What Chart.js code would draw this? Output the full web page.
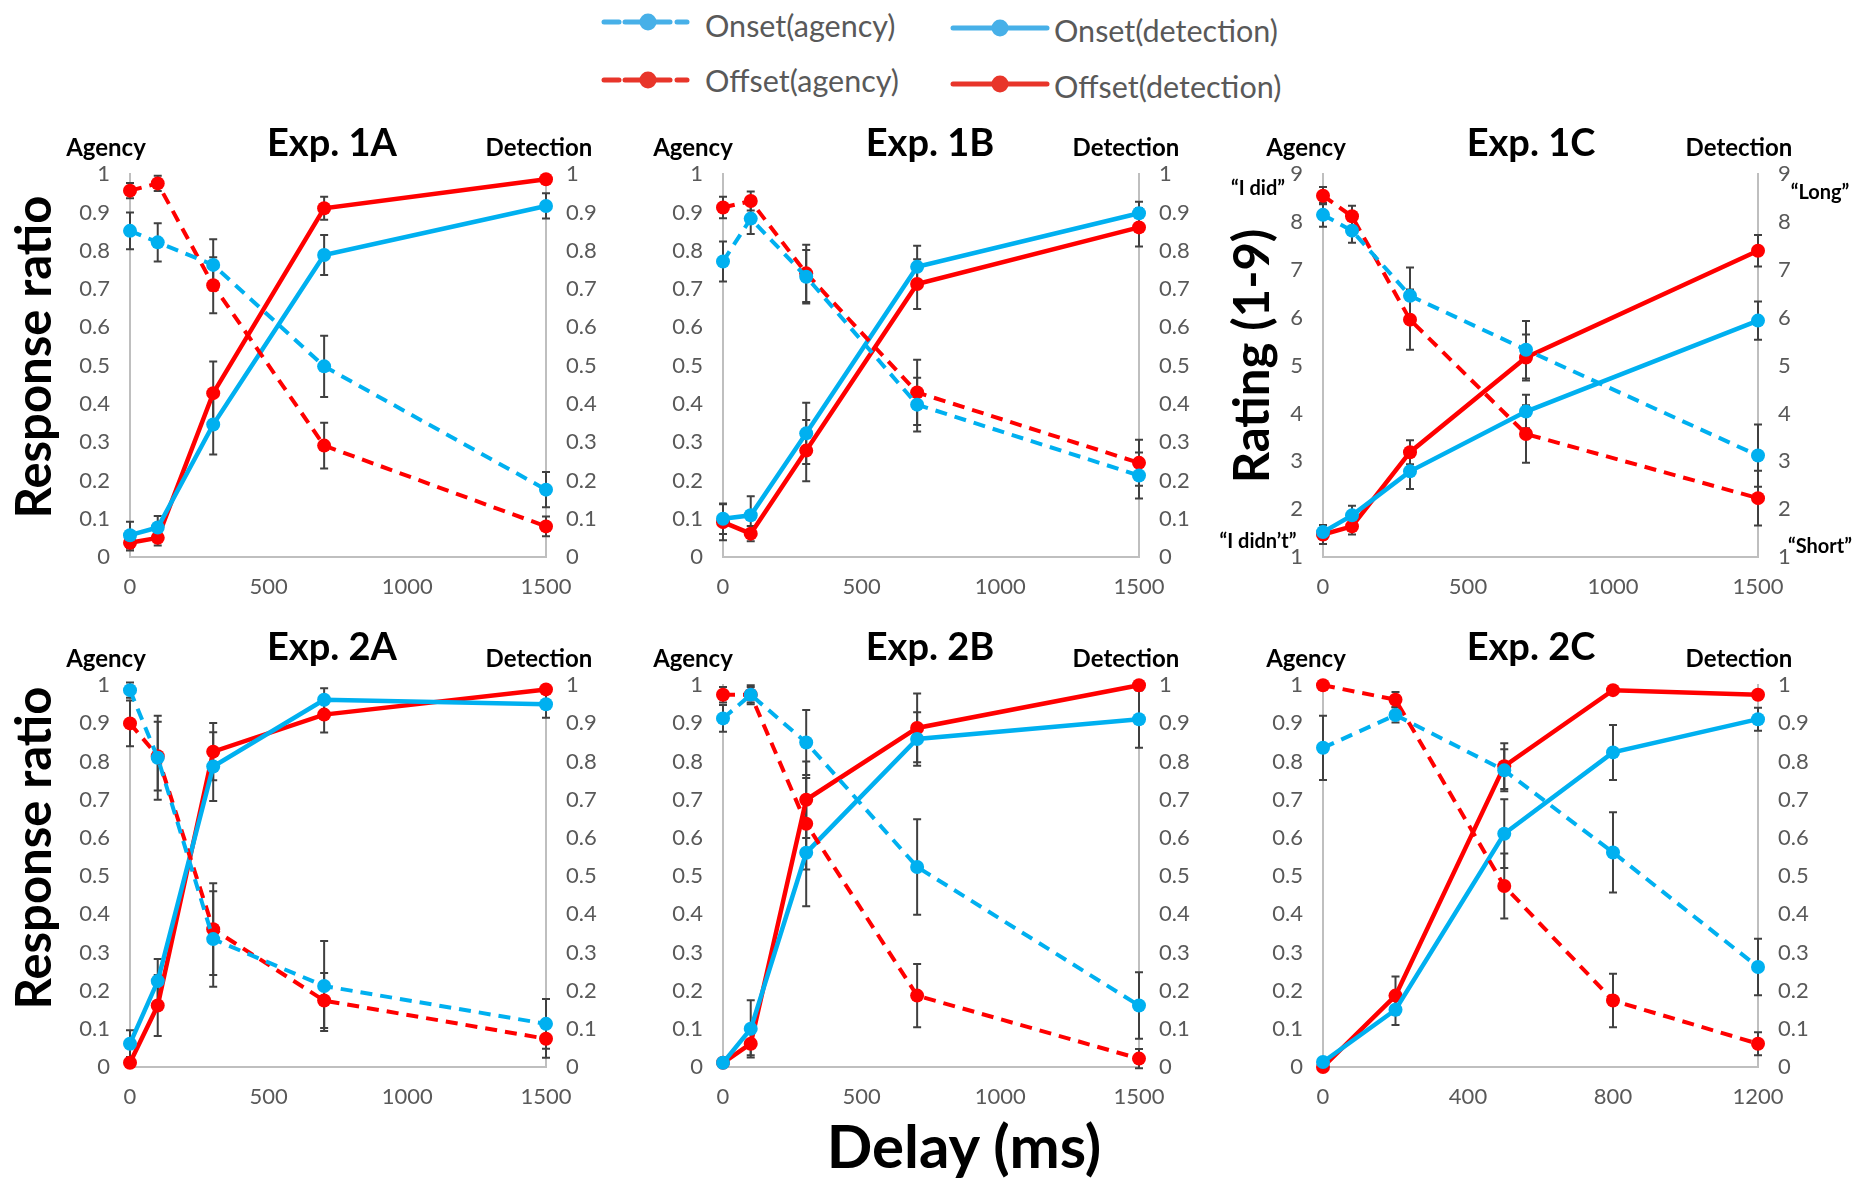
<!DOCTYPE html>
<html>
<head>
<meta charset="utf-8">
<script src="https://cdn.jsdelivr.net/npm/chart.js@4.4.1/dist/chart.umd.min.js"></script>
<style>
html,body{margin:0;padding:0;background:#fff;}
body{width:1854px;height:1178px;position:relative;overflow:hidden;font-family:Lato,"Open Sans",sans-serif;}
canvas.cv{position:absolute;}
.t{position:absolute;white-space:nowrap;font-weight:700;color:#000;line-height:1;transform:translate(-50%,-50%);}
.r{transform:translate(-50%,-50%) rotate(-90deg);}
.lg{position:absolute;white-space:nowrap;color:#595959;font-size:30.5px;line-height:1;transform:translateY(-50%);}
svg.ic{position:absolute;}
</style>
</head>
<body>
<script>
// ---------------- DATA ----------------
const delays1 = [0, 100, 300, 700, 1500];
const delays2C = [0, 200, 500, 800, 1200];
const delayTicks1 = [0, 500, 1000, 1500];
const delayTicks2C = [0, 400, 800, 1200];
const ratioTicks = [0, 0.1, 0.2, 0.3, 0.4, 0.5, 0.6, 0.7, 0.8, 0.9, 1];
const ratingTicks = [1, 2, 3, 4, 5, 6, 7, 8, 9];
const seriesNames = ['Onset(agency)', 'Offset(agency)', 'Onset(detection)', 'Offset(detection)'];

// Exp. 1A
const e1A_onsetAgency        = [0.852, 0.822, 0.763, 0.498, 0.176];
const e1A_onsetAgencyErr     = [0.048, 0.050, 0.067, 0.080, 0.046];
const e1A_offsetAgency       = [0.957, 0.976, 0.710, 0.291, 0.080];
const e1A_offsetAgencyErr    = [0.020, 0.020, 0.073, 0.060, 0.026];
const e1A_onsetDetection     = [0.057, 0.077, 0.346, 0.789, 0.917];
const e1A_onsetDetectionErr  = [0.035, 0.030, 0.078, 0.052, 0.033];
const e1A_offsetDetection    = [0.037, 0.050, 0.428, 0.911, 0.987];
const e1A_offsetDetectionErr = [0.020, 0.020, 0.083, 0.030, 0.000];

// Exp. 1B
const e1B_onsetAgency        = [0.772, 0.884, 0.732, 0.398, 0.213];
const e1B_onsetAgencyErr     = [0.052, 0.040, 0.070, 0.070, 0.060];
const e1B_offsetAgency       = [0.913, 0.930, 0.741, 0.430, 0.246];
const e1B_offsetAgencyErr    = [0.028, 0.025, 0.075, 0.085, 0.060];
const e1B_onsetDetection     = [0.100, 0.109, 0.323, 0.758, 0.898];
const e1B_onsetDetectionErr  = [0.040, 0.050, 0.080, 0.055, 0.030];
const e1B_offsetDetection    = [0.091, 0.061, 0.278, 0.713, 0.861];
const e1B_offsetDetectionErr = [0.047, 0.020, 0.080, 0.065, 0.050];

// Exp. 1C (rating 1-9)
const e1C_onsetAgency        = [8.15, 7.82, 6.46, 5.33, 3.12];
const e1C_onsetAgencyErr     = [0.25, 0.25, 0.59, 0.60, 0.65];
const e1C_offsetAgency       = [8.55, 8.12, 5.96, 3.57, 2.23];
const e1C_offsetAgencyErr    = [0.18, 0.22, 0.63, 0.60, 0.57];
const e1C_onsetDetection     = [1.52, 1.87, 2.79, 4.04, 5.94];
const e1C_onsetDetectionErr  = [0.15, 0.20, 0.37, 0.35, 0.40];
const e1C_offsetDetection    = [1.47, 1.64, 3.19, 5.17, 7.40];
const e1C_offsetDetectionErr = [0.20, 0.17, 0.25, 0.48, 0.33];

// Exp. 2A
const e2A_onsetAgency        = [0.987, 0.810, 0.335, 0.212, 0.113];
const e2A_onsetAgencyErr     = [0.020, 0.110, 0.125, 0.118, 0.065];
const e2A_offsetAgency       = [0.900, 0.814, 0.361, 0.174, 0.074];
const e2A_offsetAgencyErr    = [0.060, 0.090, 0.120, 0.072, 0.050];
const e2A_onsetDetection     = [0.061, 0.225, 0.787, 0.962, 0.950];
const e2A_onsetDetectionErr  = [0.035, 0.058, 0.090, 0.030, 0.035];
const e2A_offsetDetection    = [0.011, 0.161, 0.826, 0.923, 0.989];
const e2A_offsetDetectionErr = [0.010, 0.080, 0.075, 0.047, 0.000];

// Exp. 2B
const e2B_onsetAgency        = [0.913, 0.975, 0.850, 0.524, 0.161];
const e2B_onsetAgencyErr     = [0.035, 0.025, 0.085, 0.125, 0.087];
const e2B_offsetAgency       = [0.975, 0.975, 0.637, 0.187, 0.022];
const e2B_offsetAgencyErr    = [0.020, 0.020, 0.120, 0.083, 0.025];
const e2B_onsetDetection     = [0.011, 0.100, 0.561, 0.859, 0.911];
const e2B_onsetDetectionErr  = [0.010, 0.075, 0.140, 0.070, 0.075];
const e2B_offsetDetection    = [0.011, 0.061, 0.700, 0.888, 1.000];
const e2B_offsetDetectionErr = [0.010, 0.030, 0.100, 0.090, 0.000];

// Exp. 2C
const e2C_onsetAgency        = [0.836, 0.922, 0.777, 0.562, 0.262];
const e2C_onsetAgencyErr     = [0.084, 0.020, 0.055, 0.105, 0.074];
const e2C_offsetAgency       = [1.000, 0.962, 0.474, 0.174, 0.061];
const e2C_offsetAgencyErr    = [0.000, 0.020, 0.085, 0.070, 0.030];
const e2C_onsetDetection     = [0.013, 0.150, 0.611, 0.824, 0.911];
const e2C_onsetDetectionErr  = [0.010, 0.040, 0.090, 0.072, 0.030];
const e2C_offsetDetection    = [0.000, 0.187, 0.788, 0.987, 0.975];
const e2C_offsetDetectionErr = [0.000, 0.050, 0.060, 0.000, 0.000];

// ---------------- STYLE ----------------
const BLUE = '#00B0F0', RED = '#FF0000', TICK = '#595959', AXIS = '#BFBFBF';
const FONT = 'Lato, "Open Sans", sans-serif';

const errorBarPlugin = {
  id: 'errorBars',
  beforeDatasetsDraw(chart) {
    const ctx = chart.ctx;
    ctx.save();
    ctx.strokeStyle = '#404040';
    ctx.lineWidth = 2;
    chart.data.datasets.forEach((d, di) => {
      const meta = chart.getDatasetMeta(di);
      const ys = chart.scales[meta.yAxisID];
      meta.data.forEach((pt, i) => {
        const e = d.errors[i];
        if (!e) return;
        const v = d.data[i].y;
        const x = pt.x;
        const y1 = ys.getPixelForValue(v + e), y2 = ys.getPixelForValue(v - e);
        ctx.beginPath();
        ctx.moveTo(x, y1); ctx.lineTo(x, y2);
        ctx.moveTo(x - 4, y1); ctx.lineTo(x + 4, y1);
        ctx.moveTo(x - 4, y2); ctx.lineTo(x + 4, y2);
        ctx.stroke();
      });
    });
    ctx.restore();
  }
};

function ds(label, xs, vals, errs, color, dashed, axis) {
  return {
    label,
    data: xs.map((x, i) => ({ x, y: vals[i] })),
    errors: errs,
    borderColor: color,
    backgroundColor: color,
    pointBackgroundColor: color,
    borderWidth: dashed ? 4 : 4.5,
    borderDash: dashed ? [12, 8] : [],
    pointRadius: 7,
    pointHoverRadius: 7,
    pointBorderWidth: 0,
    tension: 0,
    clip: false,
    fill: false,
    yAxisID: axis
  };
}

function fmt(v) { return String(Math.round(v * 10) / 10); }

function yScale(pos, yMin, yMax, yTicks) {
  return {
    type: 'linear', position: pos, min: yMin, max: yMax,
    afterBuildTicks: s => { s.ticks = yTicks.map(v => ({ value: v })); },
    grid: { display: false, drawTicks: false },
    border: { display: true, color: AXIS, width: 2 },
    ticks: { color: TICK, font: { family: FONT, size: 22 }, padding: 20, callback: v => fmt(v) },
    afterFit: s => { s.width = 70; }
  };
}

function chartConfig(xs, xMax, xTicks, yMin, yMax, yTicks, series) {
  return {
    type: 'line',
    data: {
      datasets: [
        ds(seriesNames[0], xs, series[0], series[1], BLUE, true, 'y'),
        ds(seriesNames[1], xs, series[2], series[3], RED, true, 'y'),
        ds(seriesNames[2], xs, series[4], series[5], BLUE, false, 'y2'),
        ds(seriesNames[3], xs, series[6], series[7], RED, false, 'y2')
      ]
    },
    options: {
      responsive: false,
      maintainAspectRatio: false,
      animation: false,
      devicePixelRatio: 1,
      layout: { autoPadding: false, padding: { top: 25, left: 0, right: 0, bottom: 0 } },
      plugins: { legend: { display: false }, tooltip: { enabled: false } },
      scales: {
        x: {
          type: 'linear', min: 0, max: xMax,
          afterBuildTicks: s => { s.ticks = xTicks.map(v => ({ value: v })); },
          grid: { display: false, drawTicks: false },
          border: { display: true, color: AXIS, width: 2 },
          ticks: { color: TICK, font: { family: FONT, size: 22 }, padding: 17, maxRotation: 0, autoSkip: false, callback: v => String(v) },
          afterFit: s => { s.height = 55; }
        },
        y: yScale('left', yMin, yMax, yTicks),
        y2: yScale('right', yMin, yMax, yTicks)
      }
    },
    plugins: [errorBarPlugin]
  };
}

function makePanel(left, top, plotW, plotH, xs, xMax, xTicks, yMin, yMax, yTicks, series) {
  const cv = document.createElement('canvas');
  cv.className = 'cv';
  document.body.appendChild(cv);
  let W = plotW + 140, H = plotH + 80;
  const setSize = () => {
    cv.width = W; cv.height = H;
    cv.style.width = W + 'px'; cv.style.height = H + 'px';
  };
  setSize();
  let chart = new Chart(cv.getContext('2d'), chartConfig(xs, xMax, xTicks, yMin, yMax, yTicks, series));
  let ca = chart.chartArea;
  const lo = ca.left, to = ca.top, ro = W - ca.right, bo = H - ca.bottom;
  if (Math.abs((ca.right - ca.left) - plotW) > 0.01 || Math.abs((ca.bottom - ca.top) - plotH) > 0.01) {
    chart.destroy();
    W = Math.round(lo + plotW + ro); H = Math.round(to + plotH + bo);
    setSize();
    chart = new Chart(cv.getContext('2d'), chartConfig(xs, xMax, xTicks, yMin, yMax, yTicks, series));
    ca = chart.chartArea;
  }
  cv.style.left = (left - ca.left) + 'px';
  cv.style.top = (top - ca.top) + 'px';
}

// Row 1
makePanel(130, 174, 416, 383, delays1, 1500, delayTicks1, 0, 1, ratioTicks,
  [e1A_onsetAgency, e1A_onsetAgencyErr, e1A_offsetAgency, e1A_offsetAgencyErr,
   e1A_onsetDetection, e1A_onsetDetectionErr, e1A_offsetDetection, e1A_offsetDetectionErr]);
makePanel(723, 174, 416, 383, delays1, 1500, delayTicks1, 0, 1, ratioTicks,
  [e1B_onsetAgency, e1B_onsetAgencyErr, e1B_offsetAgency, e1B_offsetAgencyErr,
   e1B_onsetDetection, e1B_onsetDetectionErr, e1B_offsetDetection, e1B_offsetDetectionErr]);
makePanel(1323, 174, 435, 383, delays1, 1500, delayTicks1, 1, 9, ratingTicks,
  [e1C_onsetAgency, e1C_onsetAgencyErr, e1C_offsetAgency, e1C_offsetAgencyErr,
   e1C_onsetDetection, e1C_onsetDetectionErr, e1C_offsetDetection, e1C_offsetDetectionErr]);
// Row 2
makePanel(130, 685, 416, 382, delays1, 1500, delayTicks1, 0, 1, ratioTicks,
  [e2A_onsetAgency, e2A_onsetAgencyErr, e2A_offsetAgency, e2A_offsetAgencyErr,
   e2A_onsetDetection, e2A_onsetDetectionErr, e2A_offsetDetection, e2A_offsetDetectionErr]);
makePanel(723, 685, 416, 382, delays1, 1500, delayTicks1, 0, 1, ratioTicks,
  [e2B_onsetAgency, e2B_onsetAgencyErr, e2B_offsetAgency, e2B_offsetAgencyErr,
   e2B_onsetDetection, e2B_onsetDetectionErr, e2B_offsetDetection, e2B_offsetDetectionErr]);
makePanel(1323, 685, 435, 382, delays2C, 1200, delayTicks2C, 0, 1, ratioTicks,
  [e2C_onsetAgency, e2C_onsetAgencyErr, e2C_offsetAgency, e2C_offsetAgencyErr,
   e2C_onsetDetection, e2C_onsetDetectionErr, e2C_offsetDetection, e2C_offsetDetectionErr]);

// ---------------- TEXT ----------------
function addText(txt, x, y, size, cls) {
  const d = document.createElement('div');
  d.className = 't' + (cls ? ' ' + cls : '');
  d.textContent = txt;
  d.style.left = x + 'px';
  d.style.top = y + 'px';
  d.style.fontSize = size + 'px';
  document.body.appendChild(d);
}
const titles = ['Exp. 1A', 'Exp. 1B', 'Exp. 1C', 'Exp. 2A', 'Exp. 2B', 'Exp. 2C'];
const colTitleX = [332, 930, 1531];
const colAgencyX = [106, 693, 1306];
const colDetX = [539, 1126, 1739];
[[141, 147], [645, 658]].forEach((ry, r) => {
  for (let c = 0; c < 3; c++) {
    addText(titles[r * 3 + c], colTitleX[c], ry[0], 38);
    addText('Agency', colAgencyX[c], ry[1], 24);
    addText('Detection', colDetX[c], ry[1], 24);
  }
});
addText('Response ratio', 32, 357, 49, 'r');
addText('Response ratio', 32, 848, 49, 'r');
addText('Rating (1-9)', 1250, 356, 49, 'r');
addText('\u201CI did\u201D', 1258, 187, 20);
addText('\u201CI didn\u2019t\u201D', 1258, 540, 20);
addText('\u201CLong\u201D', 1820, 191, 20);
addText('\u201CShort\u201D', 1820, 545, 20);
addText('Delay (ms)', 964, 1145, 60);

// ---------------- LEGEND ----------------
function legendItem(name, color, segs, mx, y, tx, ty) {
  const ns = 'http://www.w3.org/2000/svg';
  const svg = document.createElementNS(ns, 'svg');
  const x0 = segs[0][0] - 10, x1 = segs[segs.length - 1][1] + 10;
  svg.setAttribute('class', 'ic');
  svg.setAttribute('width', x1 - x0);
  svg.setAttribute('height', 24);
  svg.style.left = x0 + 'px';
  svg.style.top = (y - 12) + 'px';
  segs.forEach(s => {
    const ln = document.createElementNS(ns, 'line');
    ln.setAttribute('x1', s[0] - x0); ln.setAttribute('x2', s[1] - x0);
    ln.setAttribute('y1', 12); ln.setAttribute('y2', 12);
    ln.setAttribute('stroke', color); ln.setAttribute('stroke-width', 5);
    ln.setAttribute('stroke-linecap', 'round');
    svg.appendChild(ln);
  });
  const c = document.createElementNS(ns, 'circle');
  c.setAttribute('cx', mx - x0); c.setAttribute('cy', 12); c.setAttribute('r', 8.5);
  c.setAttribute('fill', color);
  svg.appendChild(c);
  document.body.appendChild(svg);
  const d = document.createElement('div');
  d.className = 'lg';
  d.textContent = name;
  d.style.left = tx + 'px';
  d.style.top = ty + 'px';
  document.body.appendChild(d);
}
const dashSegs = [[604, 619], [625, 670], [677, 687]];
const solidSegs = [[953, 1047]];
legendItem(seriesNames[0], '#47B0E8', dashSegs, 648, 22, 705, 25);
legendItem(seriesNames[2], '#47B0E8', solidSegs, 1000, 28, 1054, 30);
legendItem(seriesNames[1], '#E8352A', dashSegs, 648, 80, 705, 80);
legendItem(seriesNames[3], '#E8352A', solidSegs, 1000, 84, 1054, 86);
</script>
</body>
</html>
